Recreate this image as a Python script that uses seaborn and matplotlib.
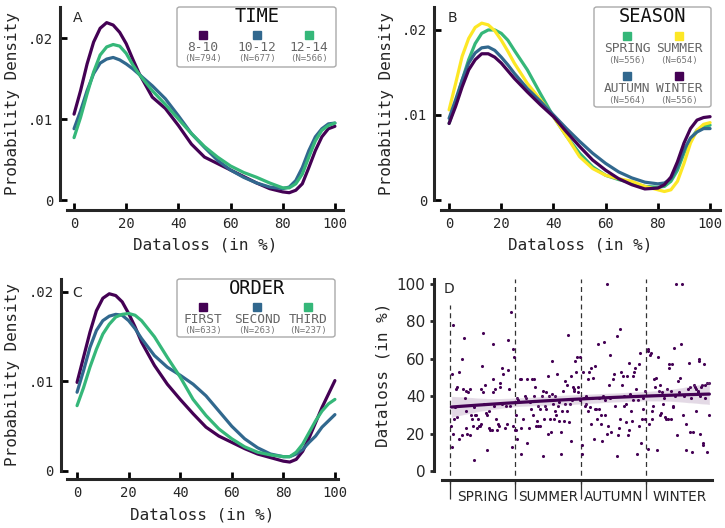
import numpy as np
import pandas as pd
import seaborn as sns
import matplotlib.pyplot as plt
from matplotlib.patches import FancyBboxPatch
from matplotlib.ticker import FuncFormatter

# ---- data ----
grid = [0, 2.5, 5, 7.5, 10, 12.5, 15, 17.5, 20, 22.5, 25, 30, 35, 40, 45, 50,
        55, 60, 65, 70, 75, 80, 82.5, 85, 87.5, 90, 92.5, 95, 97.5, 100]

time_8_10 = [0.0106, 0.0135, 0.0168, 0.0195, 0.0212, 0.0219, 0.0216, 0.0207, 0.0193, 0.0174,
             0.0156, 0.0127, 0.0113, 0.0092, 0.0069, 0.0053, 0.0045, 0.0037, 0.0029, 0.0021,
             0.0014, 0.0010, 0.0009, 0.0012, 0.0020, 0.0040, 0.0061, 0.0078, 0.0088, 0.0091]
time_10_12 = [0.0088, 0.0110, 0.0135, 0.0156, 0.0169, 0.0174, 0.0176, 0.0173, 0.0168, 0.0162,
              0.0155, 0.0141, 0.0125, 0.0104, 0.0082, 0.0065, 0.0049, 0.0037, 0.0028, 0.0021,
              0.0016, 0.0014, 0.0016, 0.0024, 0.0040, 0.0061, 0.0078, 0.0088, 0.0094, 0.0095]
time_12_14 = [0.0077, 0.0102, 0.0131, 0.0158, 0.0179, 0.0189, 0.0192, 0.0190, 0.0181, 0.0167,
              0.0155, 0.0135, 0.0118, 0.0100, 0.0082, 0.0066, 0.0053, 0.0042, 0.0034, 0.0028,
              0.0021, 0.0015, 0.0015, 0.0020, 0.0032, 0.0053, 0.0073, 0.0086, 0.0092, 0.0095]

spring = [0.0090, 0.0114, 0.0141, 0.0165, 0.0184, 0.0196, 0.0200, 0.0200, 0.0196, 0.0188,
          0.0176, 0.0153, 0.0125, 0.0098, 0.0075, 0.0055, 0.0039, 0.0029, 0.0024, 0.0020,
          0.0016, 0.0015, 0.0016, 0.0022, 0.0035, 0.0055, 0.0071, 0.0082, 0.0087, 0.0088]
summer = [0.0106, 0.0137, 0.0169, 0.0190, 0.0203, 0.0208, 0.0206, 0.0199, 0.0188, 0.0175,
          0.0161, 0.0137, 0.0118, 0.0098, 0.0075, 0.0051, 0.0037, 0.0029, 0.0025, 0.0022,
          0.0016, 0.0012, 0.0010, 0.0012, 0.0022, 0.0043, 0.0067, 0.0082, 0.0089, 0.0091]
autumn = [0.0096, 0.0118, 0.0141, 0.0161, 0.0173, 0.0179, 0.0180, 0.0176, 0.0168, 0.0159,
          0.0149, 0.0131, 0.0116, 0.0100, 0.0084, 0.0069, 0.0055, 0.0043, 0.0033, 0.0026,
          0.0021, 0.0019, 0.0020, 0.0025, 0.0039, 0.0059, 0.0073, 0.0080, 0.0084, 0.0084]
winter = [0.0090, 0.0110, 0.0133, 0.0153, 0.0165, 0.0172, 0.0172, 0.0168, 0.0161, 0.0152,
          0.0143, 0.0127, 0.0112, 0.0098, 0.0080, 0.0063, 0.0047, 0.0035, 0.0025, 0.0018,
          0.0013, 0.0014, 0.0018, 0.0027, 0.0045, 0.0067, 0.0084, 0.0094, 0.0097, 0.0098]

first = [0.0099, 0.0127, 0.0155, 0.0179, 0.0193, 0.0198, 0.0196, 0.0189, 0.0176, 0.0161,
         0.0144, 0.0118, 0.0097, 0.0080, 0.0064, 0.0049, 0.0039, 0.0032, 0.0025, 0.0019,
         0.0015, 0.0011, 0.0010, 0.0013, 0.0022, 0.0037, 0.0054, 0.0071, 0.0086, 0.0101]
second = [0.0088, 0.0112, 0.0138, 0.0157, 0.0168, 0.0173, 0.0175, 0.0174, 0.0168, 0.0159,
          0.0148, 0.0129, 0.0116, 0.0107, 0.0097, 0.0084, 0.0067, 0.0050, 0.0036, 0.0026,
          0.0019, 0.0016, 0.0016, 0.0019, 0.0024, 0.0032, 0.0039, 0.0049, 0.0056, 0.0063]
third = [0.0073, 0.0093, 0.0116, 0.0136, 0.0153, 0.0164, 0.0172, 0.0175, 0.0176, 0.0174,
         0.0168, 0.0150, 0.0127, 0.0105, 0.0080, 0.0062, 0.0047, 0.0036, 0.0027, 0.0021,
         0.0018, 0.0016, 0.0016, 0.0021, 0.0030, 0.0043, 0.0056, 0.0067, 0.0075, 0.0080]

time_labels = ["8-10", "10-12", "12-14"]
time_n = [794, 677, 566]
season_labels = ["SPRING", "SUMMER", "AUTUMN", "WINTER"]
season_n = [556, 654, 564, 556]
order_labels = ["FIRST", "SECOND", "THIRD"]
order_n = [633, 263, 237]

# panel D: position in study (season units, 0-4) and dataloss in %
d_pos = [0.04, 0.03, 0.02, 0.03, 0.05, 0.09, 0.10, 0.08, 0.06, 0.11, 0.13, 0.14, 0.18, 0.20,
         0.21, 0.19, 0.23, 0.24, 0.24, 0.25, 0.26, 0.28, 0.31, 0.30, 0.32, 0.33, 0.35, 0.36,
         0.37, 0.38, 0.40, 0.41, 0.42, 0.45, 0.46, 0.47, 0.48, 0.50, 0.49, 0.51, 0.52, 0.53,
         0.55, 0.56, 0.57, 0.59, 0.60, 0.61, 0.64, 0.65, 0.65, 0.66, 0.67, 0.69, 0.71, 0.72,
         0.74, 0.75, 0.76, 0.77, 0.79, 0.80, 0.81, 0.84, 0.85, 0.87, 0.88, 0.89, 0.90, 0.92,
         0.93, 0.94, 0.96, 0.96, 0.97, 0.99, 1.01, 1.01, 1.02, 1.03, 1.04, 1.07, 1.08, 1.09,
         1.09, 1.12, 1.15, 1.16, 1.17, 1.18,
         1.22, 1.21, 1.23, 1.25, 1.27, 1.28, 1.29, 1.30, 1.32, 1.33, 1.34, 1.35, 1.37, 1.38,
         1.40, 1.42, 1.42, 1.44, 1.45, 1.46, 1.47, 1.49, 1.50, 1.51, 1.52, 1.54, 1.55, 1.56,
         1.57, 1.59, 1.60, 1.61, 1.62, 1.64, 1.65, 1.66, 1.67, 1.69, 1.70, 1.71, 1.73, 1.74,
         1.75, 1.76, 1.78, 1.79, 1.80, 1.81, 1.83, 1.84, 1.85, 1.86, 1.88, 1.89, 1.90, 1.91,
         1.93, 1.94, 1.95, 1.96, 1.98, 1.99, 2.01, 2.02, 2.03, 2.05, 2.06, 2.07, 2.08, 2.10,
         2.11, 2.12, 2.13, 2.15, 2.16, 2.17, 2.18, 2.20, 2.21, 2.22, 2.23, 2.25, 2.26, 2.27,
         2.28, 2.30, 2.31, 2.32, 2.34, 2.35, 2.36, 2.37, 2.39, 2.39, 2.41, 2.42, 2.44, 2.45,
         2.46, 2.49, 2.50, 2.52,
         2.55, 2.60, 2.55, 2.56, 2.58, 2.59, 2.61, 2.63, 2.64, 2.65, 2.66, 2.68, 2.69, 2.70,
         2.71, 2.73, 2.74, 2.75, 2.76, 2.78, 2.79, 2.80, 2.81, 2.83, 2.84, 2.85, 2.87, 2.88,
         2.89, 2.90, 2.92, 2.93, 2.94, 2.95, 2.97, 2.98, 3.02, 3.02, 3.03, 3.04, 3.05, 3.07,
         3.08, 3.09, 3.10, 3.12, 3.13, 3.15, 3.16, 3.17, 3.19, 3.20, 3.21, 3.22, 3.24, 3.25,
         3.27, 3.29, 3.30, 3.31, 3.33, 3.34, 3.35, 3.37, 3.37, 3.39, 3.40, 3.41, 3.42, 3.44,
         3.45, 3.46, 3.48, 3.49, 3.51, 3.52, 3.54, 3.55, 3.58, 3.60, 3.60, 3.63, 3.65, 3.66,
         3.67, 3.68, 3.70, 3.71, 3.72, 3.74, 3.75, 3.76, 3.78, 3.79, 3.80, 3.80, 3.81, 3.82,
         3.83, 3.85, 3.86, 3.87, 3.88, 3.89, 3.90, 3.92, 3.93, 3.95, 3.96]
d_loss = [78, 52, 24, 13, 20, 44, 45, 34, 28, 29, 53, 17, 60, 44,
          71, 19, 39, 23, 32, 43, 20, 42, 44, 19, 30, 28, 24, 6,
          34, 30, 30, 23, 28, 24, 24, 44, 25, 74, 56, 42, 36, 46,
          31, 11, 30, 32, 23, 22, 22, 68, 49, 42, 35, 44, 28, 22,
          25, 24, 45, 47, 36, 55, 52, 23, 35, 25, 70, 54, 44, 35,
          85, 13, 65, 24, 61, 22, 30, 22, 17, 39, 38, 49, 49, 23,
          9, 28, 40, 39, 15, 49,
          37, 23, 33, 49, 30, 40, 49, 45, 24, 27, 24, 35, 33, 24,
          40, 43, 8, 28, 35, 42, 33, 20, 51, 40, 28, 21, 59, 41,
          36, 28, 32, 40, 30, 52, 35, 27, 37, 21, 9, 32, 43, 27,
          48, 36, 46, 32, 73, 26, 36, 51, 16, 38, 45, 43, 44, 59,
          53, 61, 42, 45, 61, 38, 9, 14, 53, 39, 35, 40, 36, 49,
          32, 53, 34, 25, 55, 39, 50, 17, 33, 56, 33, 28, 68, 33,
          39, 30, 25, 16, 40, 69, 30, 38, 20, 100, 24, 46, 39, 62,
          21, 49, 52, 35,
          72, 76, 8, 19, 23, 28, 53, 46, 51, 35, 40, 26, 36, 51,
          19, 22, 58, 41, 32, 27, 38, 51, 53, 55, 44, 9, 38, 24,
          57, 63, 15, 28, 39, 33, 28, 43, 12, 65, 64, 25, 62, 63,
          32, 28, 35, 49, 45, 50, 11, 61, 43, 46, 30, 31, 42, 36,
          39, 29, 28, 44, 28, 55, 57, 43, 28, 57, 34, 35, 66, 40,
          100, 19, 48, 42, 50, 68, 100, 30, 40, 25, 11, 44, 58, 45,
          21, 39, 10, 21, 46, 45, 44, 32, 42, 43, 60, 59, 20, 40,
          45, 46, 14, 15, 57, 46, 39, 10, 47, 30, 47]

PURPLE, BLUE, GREEN, YELLOW = "#440154", "#31688e", "#35b779", "#fde725"
MONO = ["DejaVu Sans Mono", "DejaVu Sans"]

sns.set_style("ticks")
plt.rcParams["font.family"] = MONO
plt.rcParams["axes.linewidth"] = 2.2
plt.rcParams["lines.solid_joinstyle"] = "round"

W, H = 725, 528
fig = plt.figure(figsize=(W / 100, H / 100), dpi=100)


def box(l, t, r, b):
    return [l / W, 1 - b / H, (r - l) / W, (b - t) / H]


def fpx(x, y):
    return x / W, 1 - y / H


def style_axes(ax, left_off, bottom_off):
    sns.despine(ax=ax)
    ax.spines["left"].set_position(("outward", left_off))
    ax.spines["bottom"].set_position(("outward", bottom_off))
    ax.tick_params(direction="in", length=5, width=2, labelsize=10, pad=5, color="black")
    ax.set_xlabel("Dataloss (in %)", fontsize=11.5, labelpad=5)
    ax.set_ylabel("Probability Density", fontsize=11.5, labelpad=6)
    ax.set_xticks([0, 20, 40, 60, 80, 100])
    ax.set_yticks([0, 0.01, 0.02])
    ax.yaxis.set_major_formatter(FuncFormatter(lambda v, p: "0" if v == 0 else f"{v:.2f}"[1:]))


def kde_panel(ax, series, labels, colors, xlim, ylim):
    df = pd.DataFrame({"x": np.tile(grid, len(series)),
                       "density": np.concatenate(series),
                       "group": np.repeat(labels, len(grid))})
    sns.lineplot(data=df, x="x", y="density", hue="group", hue_order=labels,
                 palette=dict(zip(labels, colors)), linewidth=2.3, legend=False, ax=ax)
    ax.set_xlim(*xlim)
    ax.set_ylim(*ylim)


def legend_box(l, t, r, b, title, title_xy, items):
    fig.patches.append(FancyBboxPatch(fpx(l, b), (r - l) / W, (b - t) / H,
                                      boxstyle="round,pad=0,rounding_size=0.004",
                                      transform=fig.transFigure, facecolor="white",
                                      edgecolor="#aaaaaa", linewidth=1.0, zorder=5))
    fig.text(*fpx(*title_xy), title, fontsize=13.5, ha="center", va="center",
             color="#111111", zorder=6)
    for (x, y, lab, n, col) in items:
        fig.add_artist(plt.Line2D([x / W], [1 - y / H], marker="s", markersize=6,
                                  color=col, linestyle="none", transform=fig.transFigure, zorder=6))
        fig.text(*fpx(x, y + 12.5), lab, fontsize=9.3, ha="center", va="center",
                 color="#666666", zorder=6)
        fig.text(*fpx(x, y + 24), f"(N={n})", fontsize=6.5, ha="center", va="center",
                 color="#777777", zorder=6)


# ---- A ----
axA = fig.add_axes(box(67, 7, 343, 200))
kde_panel(axA, [time_8_10, time_10_12, time_12_14], time_labels, [PURPLE, BLUE, GREEN],
          (-2.7, 103.1), (0, 0.02383))
style_axes(axA, 5, 7)
axA.text(0.02, 0.92, "A", transform=axA.transAxes, fontsize=10, family="DejaVu Sans")
legend_box(177, 7, 336, 67, "TIME", (257, 16),
           [(203, 35, time_labels[0], time_n[0], PURPLE),
            (257, 35, time_labels[1], time_n[1], BLUE),
            (309, 35, time_labels[2], time_n[2], GREEN)])

# ---- B ----
axB = fig.add_axes(box(441, 7, 720, 200))
kde_panel(axB, [spring, summer, autumn, winter], season_labels, [GREEN, YELLOW, BLUE, PURPLE],
          (-3.1, 103.8), (0, 0.0227))
style_axes(axB, 5, 7)
axB.text(0.025, 0.92, "B", transform=axB.transAxes, fontsize=10, family="DejaVu Sans")
legend_box(594, 7, 711, 107, "SEASON", (652, 17),
           [(627, 36, season_labels[0], season_n[0], GREEN),
            (679, 36, season_labels[1], season_n[1], YELLOW),
            (627, 76, season_labels[2], season_n[2], BLUE),
            (679, 76, season_labels[3], season_n[3], PURPLE)])

# ---- C ----
axC = fig.add_axes(box(67, 279, 338, 471))
kde_panel(axC, [first, second, third], order_labels, [PURPLE, BLUE, GREEN],
          (-3.9, 101.2), (0, 0.02145))
style_axes(axC, 4.5, 6)
axC.text(0.02, 0.905, "C", transform=axC.transAxes, fontsize=10, family="DejaVu Sans")
legend_box(177, 279, 335, 337, "ORDER", (257, 288),
           [(203, 307, order_labels[0], order_n[0], PURPLE),
            (257, 307, order_labels[1], order_n[1], BLUE),
            (308, 307, order_labels[2], order_n[2], GREEN)])

# ---- D ----
axD = fig.add_axes(box(442, 279, 712, 471))
sns.regplot(x=np.array(d_pos), y=np.array(d_loss), order=2, ci=95, seed=0, ax=axD,
            color=PURPLE, scatter_kws={"s": 5, "linewidths": 0, "alpha": 1},
            line_kws={"linewidth": 2.3})
axD.set_xlim(-0.122, 4.0)
axD.set_ylim(0, 102.7)
sns.despine(ax=axD)
axD.spines["left"].set_position(("outward", 6))
axD.spines["bottom"].set_position(("outward", 6.5))
for k in range(4):
    top = 89 if k == 0 else 102.7
    axD.vlines(k, -7, top, colors="#333333", linestyles=(0, (4, 3)), linewidth=0.9,
               clip_on=False, zorder=0)
axD.set_xticks([0.5, 1.5, 2.5, 3.5])
axD.set_xticklabels(season_labels, family="DejaVu Sans", fontsize=9.8)
axD.set_xticks([0, 1, 2, 3], minor=True)
axD.tick_params(axis="x", which="major", length=0, pad=7)
axD.tick_params(axis="x", which="minor", length=14, width=0.9, direction="out", color="#333333")
axD.set_yticks([0, 20, 40, 60, 80, 100])
axD.set_yticklabels(["0", "20", "40", "60", "80", "100"], family="DejaVu Sans", fontsize=11)
axD.tick_params(axis="y", direction="out", length=3, width=2, pad=3)
axD.set_xlabel("")
axD.set_ylabel("Dataloss (in %)", fontsize=11.5, labelpad=4)
axD.text(-0.09, 95, "D", fontsize=10, family="DejaVu Sans")

fig.savefig("out.png", dpi=100)
